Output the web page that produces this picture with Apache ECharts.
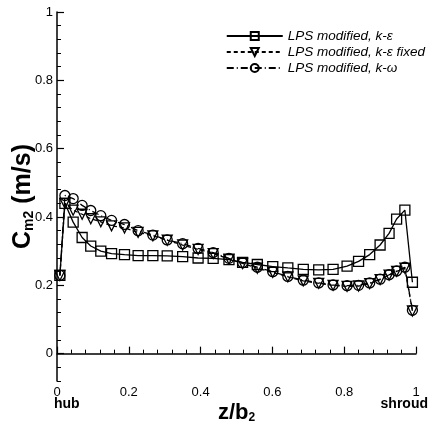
<!DOCTYPE html>
<html>
<head>
<meta charset="utf-8">
<script src="https://cdn.jsdelivr.net/npm/echarts@6/dist/echarts.min.js"></script>
<style>
  html, body { margin: 0; padding: 0; background: #fff; }
  #chart { width: 432px; height: 425px; }
</style>
</head>
<body>
<div id="chart"></div>
<script>
// z/b2 positions of the grid points
const zPos = [0.008, 0.022, 0.045, 0.07, 0.094, 0.122, 0.152, 0.188, 0.226, 0.267,
  0.307, 0.35, 0.393, 0.435, 0.479, 0.517, 0.558, 0.601, 0.643, 0.686,
  0.729, 0.769, 0.808, 0.84, 0.871, 0.9, 0.925, 0.946, 0.969, 0.99];

// Cm2 (m/s)
const kEps = [0.229, 0.44, 0.385, 0.34, 0.315, 0.3, 0.293, 0.29, 0.287, 0.287,
  0.286, 0.284, 0.28, 0.279, 0.275, 0.267, 0.261, 0.255, 0.251, 0.247,
  0.245, 0.247, 0.256, 0.27, 0.29, 0.318, 0.352, 0.394, 0.42, 0.209];
const kEpsFixed = [0.229, 0.44, 0.42, 0.408, 0.395, 0.386, 0.374, 0.368, 0.355, 0.345,
  0.332, 0.318, 0.305, 0.293, 0.277, 0.264, 0.25, 0.238, 0.225, 0.213,
  0.206, 0.2, 0.197, 0.198, 0.205, 0.217, 0.23, 0.241, 0.25, 0.125];
const kOmega = [0.229, 0.463, 0.454, 0.434, 0.419, 0.404, 0.39, 0.378, 0.36, 0.347,
  0.333, 0.322, 0.308, 0.296, 0.279, 0.266, 0.253, 0.24, 0.226, 0.215,
  0.207, 0.201, 0.199, 0.2, 0.207, 0.218, 0.231, 0.242, 0.253, 0.127];

const yMajor = [0, 0.2, 0.4, 0.6, 0.8, 1];
const yMinor = [-0.08, -0.04, 0.04, 0.08, 0.12, 0.16, 0.24, 0.28, 0.32, 0.36,
  0.44, 0.48, 0.52, 0.56, 0.64, 0.68, 0.72, 0.76, 0.84, 0.88, 0.92, 0.96];

const names = ['LPS modified, k-\u03b5', 'LPS modified, k-\u03b5 fixed', 'LPS modified, k-\u03c9'];

function pairs(ys) {
  return zPos.map((z, i) => [z, ys[i]]);
}

const chart = echarts.init(document.getElementById('chart'));
const font = 'Liberation Sans, Arial, sans-serif';

function mkSeries(name, ys, symbol, dash, rot) {
  return {
    name: name,
    type: 'line',
    data: pairs(ys),
    symbol: symbol,
    symbolSize: 10,
    symbolRotate: rot || 0,
    showSymbol: true,
    lineStyle: { color: '#000', width: 1.3, type: dash },
    itemStyle: { color: 'rgba(255,255,255,0)', borderColor: '#000', borderWidth: 1.3 },
    emphasis: { disabled: true },
    z: 3
  };
}

chart.setOption({
  animation: false,
  textStyle: { fontFamily: font },
  grid: { left: 57, right: 16, top: 12, bottom: 44, outerBoundsMode: 'none', containLabel: false },
  legend: {
    orient: 'vertical',
    right: 2,
    top: 24,
    itemWidth: 56,
    itemHeight: 10,
    itemGap: 2,
    textStyle: { fontFamily: font, fontSize: 13.5, fontStyle: 'italic', color: '#000' },
    data: names
  },
  xAxis: {
    type: 'value',
    min: 0,
    max: 1,
    interval: 0.2,
    axisLine: { lineStyle: { color: '#000', width: 1.5 } },
    axisTick: { inside: true, length: 7, lineStyle: { color: '#000', width: 1.2 } },
    minorTick: { show: true, splitNumber: 5, length: 4, lineStyle: { color: '#000' } },
    splitLine: { show: false },
    axisLabel: { color: '#000', fontSize: 13, margin: 5,
      formatter: v => (v === 0 || v === 1) ? String(v) : v.toFixed(1) },
    name: '{a|z/b}{s|2}',
    nameLocation: 'middle',
    nameGap: 21,
    nameMoveOverlap: false,
    nameTextStyle: {
      rich: {
        a: { fontFamily: font, fontSize: 22, fontWeight: 'bold', color: '#000' },
        s: { fontFamily: font, fontSize: 12, fontWeight: 'bold', color: '#000', padding: [10, 0, 0, 0] }
      }
    }
  },
  yAxis: [{
    type: 'value',
    min: -0.08,
    max: 1,
    axisLine: { lineStyle: { color: '#000', width: 1.5 } },
    axisTick: { inside: true, length: 7, customValues: yMajor, lineStyle: { color: '#000', width: 1.2 } },
    splitLine: { show: false },
    axisLabel: { color: '#000', fontSize: 13, margin: 4, customValues: yMajor,
      formatter: v => (v === 0 || v === 1) ? String(v) : v.toFixed(1) },
    name: '{a|C}{s|m2}{a| (m/s)}',
    nameLocation: 'middle',
    nameGap: 21,
    nameRotate: 90,
    nameMoveOverlap: false,
    nameTextStyle: {
      rich: {
        a: { fontFamily: font, fontSize: 25, fontWeight: 'bold', color: '#000' },
        s: { fontFamily: font, fontSize: 14, fontWeight: 'bold', color: '#000', padding: [12, 0, 0, 0] }
      }
    }
  }, {
    type: 'value',
    position: 'left',
    min: -0.08,
    max: 1,
    axisLine: { show: false },
    axisTick: { inside: true, length: 4, customValues: yMinor, lineStyle: { color: '#000' } },
    axisLabel: { show: false },
    splitLine: { show: false }
  }],
  graphic: [
    { type: 'text', left: 54, top: 397, style: { text: 'hub', font: 'bold 14px ' + font, fill: '#000' } },
    { type: 'text', right: 4, top: 397, style: { text: 'shroud', font: 'bold 14px ' + font, fill: '#000' } }
  ],
  series: [
    mkSeries(names[0], kEps, 'rect', 'solid'),
    mkSeries(names[1], kEpsFixed, 'triangle', [4, 3], 180),
    mkSeries(names[2], kOmega, 'circle', [7, 3, 1, 3])
  ]
});
</script>
</body>
</html>
